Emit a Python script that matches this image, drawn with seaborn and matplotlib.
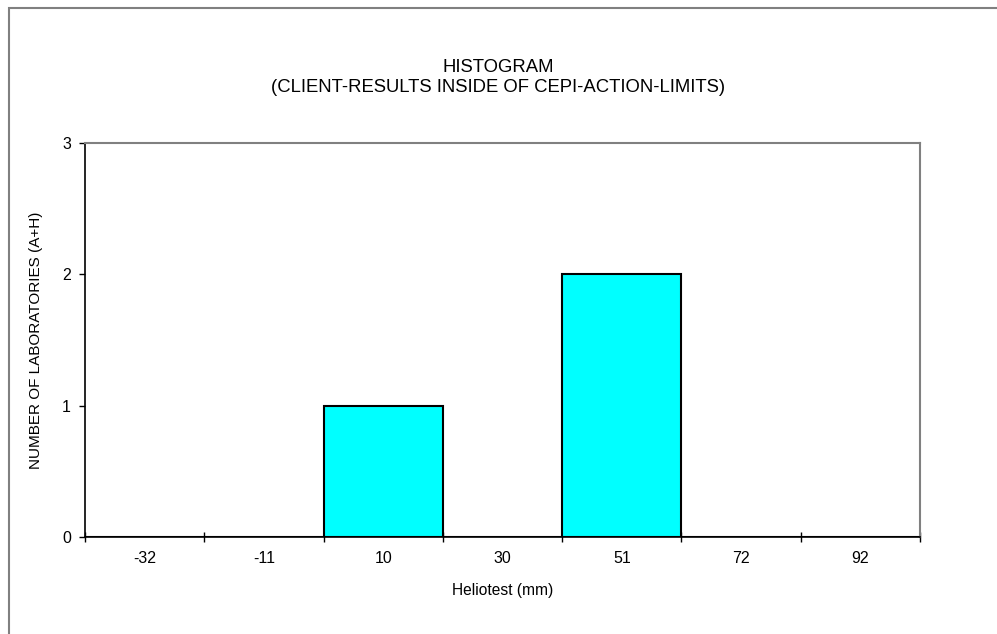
import seaborn as sns
import matplotlib.pyplot as plt
import matplotlib.patches as patches
import pandas as pd

# Datos
# ------------------------------------------------------------------------------
categorias = ["-32", "-11", "10", "30", "51", "72", "92"]
laboratorios = [0, 0, 1, 0, 2, 0, 0]

df = pd.DataFrame({"heliotest": categorias, "n": laboratorios})

sns.set_style("white")
plt.rcParams["font.family"] = ["Liberation Sans", "DejaVu Sans"]
plt.rcParams["text.color"] = "black"
plt.rcParams["axes.labelcolor"] = "black"
plt.rcParams["xtick.color"] = "black"
plt.rcParams["ytick.color"] = "black"

fig = plt.figure(figsize=(9.97, 6.34), dpi=100)
ax = fig.add_axes([85 / 997, 1 - 537 / 634, 835 / 997, 394 / 634])

sns.barplot(data=df, x="heliotest", y="n", order=categorias, width=1,
            color="#00FFFF", edgecolor="black", linewidth=1.5,
            saturation=1, ax=ax)

ax.set_xlim(-0.5, len(categorias) - 0.5)
ax.set_ylim(0, 3)
ax.set_yticks([0, 1, 2, 3])

# ticks en los limites de cada categoria
ax.set_xticks([i - 0.5 for i in range(len(categorias) + 1)], minor=True)
ax.tick_params(axis="x", which="major", length=0, pad=10, labelsize=11.5)
ax.tick_params(axis="x", which="minor", direction="inout", length=7,
               width=1, color="black", bottom=True)
ax.tick_params(axis="y", direction="out", length=4, width=1, color="black",
               left=True, pad=6, labelsize=11.5)

for lado in ["left", "bottom"]:
    ax.spines[lado].set_color("black")
    ax.spines[lado].set_linewidth(1.2)
for lado in ["top", "right"]:
    ax.spines[lado].set_color("#808080")
    ax.spines[lado].set_linewidth(1.5)

ax.set_xlabel("Heliotest (mm)", fontsize=11.2, labelpad=12)
ax.set_ylabel("NUMBER OF LABORATORIES (A+H)", fontsize=11, labelpad=14)

fig.text(0.5, 1 - 68 / 634, "HISTOGRAM", ha="center", va="center", fontsize=13.3)
fig.text(0.5, 1 - 88 / 634, "(CLIENT-RESULTS INSIDE OF CEPI-ACTION-LIMITS)",
         ha="center", va="center", fontsize=13.3)

# marco exterior
marco = patches.Rectangle((9 / 997, -0.05), 1.2, 1 - 8 / 634 + 0.05,
                          transform=fig.transFigure, fill=False,
                          edgecolor="#808080", linewidth=1.5)
fig.patches.append(marco)

fig.savefig("out.png", dpi=100)
